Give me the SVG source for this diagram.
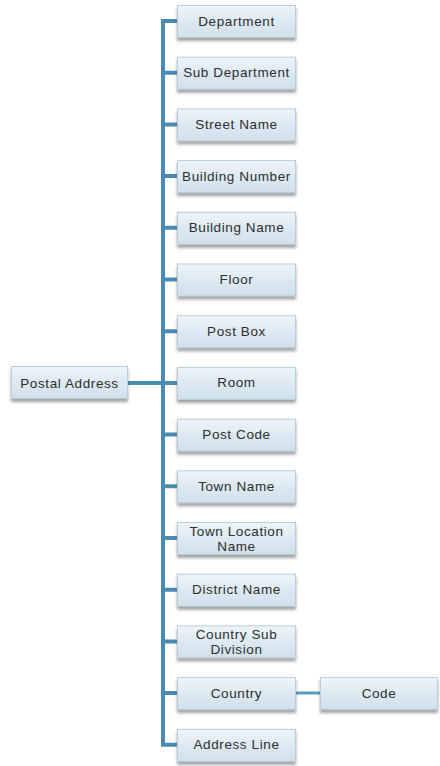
<svg xmlns="http://www.w3.org/2000/svg" width="440" height="766" viewBox="0 0 440 766">
<defs>
<linearGradient id="g" x1="0" y1="0" x2="0" y2="1">
<stop offset="0" stop-color="#eef5fa"/>
<stop offset="0.5" stop-color="#dde9f2"/>
<stop offset="1" stop-color="#d0e0eb"/>
</linearGradient>
<filter id="sh" x="-10%" y="-20%" width="120%" height="160%">
<feDropShadow dx="0" dy="3" stdDeviation="1.6" flood-color="#555" flood-opacity="0.55"/>
</filter>
</defs>
<style>
.b{fill:url(#g);stroke:#b9ccd9;stroke-width:1;filter:url(#sh)}
.t{font-family:"Liberation Sans",Arial,sans-serif;font-size:13.5px;letter-spacing:0.6px;fill:#2e2e2e;text-anchor:middle;dominant-baseline:central}
.c{stroke:#4a8bb2;stroke-width:4;fill:none}
.c2{stroke:#5a9cc2;stroke-width:3;fill:none}
</style>
<g id="connectors">
<path class="c" d="M163,21V745"/>
<path class="c" d="M128,383H163"/>
<path class="c" d="M161,21H177M161,72.7H177M161,124.4H177M161,176.1H177M161,227.8H177M161,279.5H177M161,331.2H177M161,382.9H177M161,434.6H177M161,486.3H177M161,538H177M161,589.7H177M161,641.4H177M161,693.1H177M161,744.8H177"/>
<path class="c2" d="M295,693H320"/>
</g>
<g id="postal-address"><rect class="b" x="11.5" y="366.5" width="116" height="32"/><text class="t" x="69.5" y="383">Postal Address</text></g>
<g id="department"><rect class="b" x="177.5" y="5.5" width="118" height="32"/><text class="t" x="236.5" y="21">Department</text></g>
<g id="sub-department"><rect class="b" x="177.5" y="57.2" width="118" height="32"/><text class="t" x="236.5" y="72.7">Sub Department</text></g>
<g id="street-name"><rect class="b" x="177.5" y="108.9" width="118" height="32"/><text class="t" x="236.5" y="124.4">Street Name</text></g>
<g id="building-number"><rect class="b" x="177.5" y="160.6" width="118" height="32"/><text class="t" x="236.5" y="176.1">Building Number</text></g>
<g id="building-name"><rect class="b" x="177.5" y="212.3" width="118" height="32"/><text class="t" x="236.5" y="227.8">Building Name</text></g>
<g id="floor"><rect class="b" x="177.5" y="264" width="118" height="32"/><text class="t" x="236.5" y="279.5">Floor</text></g>
<g id="post-box"><rect class="b" x="177.5" y="315.7" width="118" height="32"/><text class="t" x="236.5" y="331.2">Post Box</text></g>
<g id="room"><rect class="b" x="177.5" y="367.4" width="118" height="32"/><text class="t" x="236.5" y="382.9">Room</text></g>
<g id="post-code"><rect class="b" x="177.5" y="419.1" width="118" height="32"/><text class="t" x="236.5" y="434.6">Post Code</text></g>
<g id="town-name"><rect class="b" x="177.5" y="470.8" width="118" height="32"/><text class="t" x="236.5" y="486.3">Town Name</text></g>
<g id="town-location-name"><rect class="b" x="177.5" y="522.5" width="118" height="32"/><text class="t" x="236.5" y="531">Town Location</text><text class="t" x="236.5" y="546">Name</text></g>
<g id="district-name"><rect class="b" x="177.5" y="574.2" width="118" height="32"/><text class="t" x="236.5" y="589.7">District Name</text></g>
<g id="country-sub-division"><rect class="b" x="177.5" y="625.9" width="118" height="32"/><text class="t" x="236.5" y="634.4">Country Sub</text><text class="t" x="236.5" y="649.4">Division</text></g>
<g id="country"><rect class="b" x="177.5" y="677.6" width="118" height="32"/><text class="t" x="236.5" y="693.1">Country</text></g>
<g id="address-line"><rect class="b" x="177.5" y="729.3" width="118" height="32"/><text class="t" x="236.5" y="744.8">Address Line</text></g>
<g id="code"><rect class="b" x="320.5" y="677.6" width="117" height="32"/><text class="t" x="379" y="693.1">Code</text></g>
</svg>
